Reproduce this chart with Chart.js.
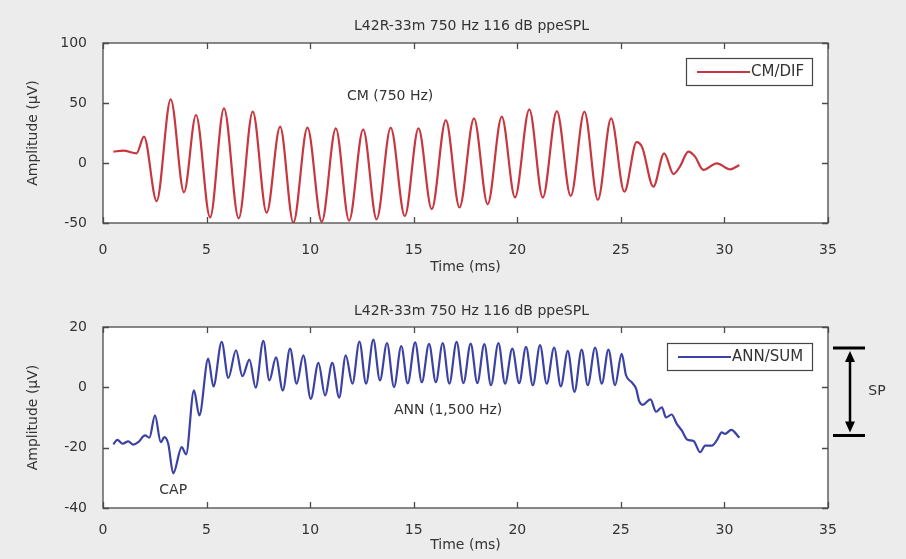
<!DOCTYPE html>
<html>
<head>
<meta charset="utf-8">
<script src="https://cdn.jsdelivr.net/npm/chart.js@4.4.1/dist/chart.umd.min.js"></script>
<style>
  html, body { margin: 0; padding: 0; background: #ececec; }
  body { width: 906px; height: 559px; position: relative; overflow: hidden; }
  .panel { position: absolute; left: 0; width: 906px; }
  #topPanel { top: 0; height: 280px; }
  #botPanel { top: 280px; height: 279px; }
</style>
</head>
<body>
<div class="panel" id="topPanel"><canvas id="cmChart"></canvas></div>
<div class="panel" id="botPanel"><canvas id="annChart"></canvas></div>
<script>
/* CM / ANN waveforms — two stacked panels */
var TITLE = 'L42R-33m 750 Hz 116 dB ppeSPL';
var xTicks = [0, 5, 10, 15, 20, 25, 30, 35];
var cmTicks = [-50, 0, 50, 100];
var annTicks = [-40, -20, 0, 20];

// CM/DIF trace (ms, µV) — peaks & troughs
var cmTime = [0.5, 0.98, 1.62, 1.98, 2.59, 3.27, 3.91, 4.49, 5.17, 5.84, 6.55, 7.23, 7.90, 8.55, 9.19, 9.87,
  10.56, 11.24, 11.88, 12.56, 13.21, 13.89, 14.57, 15.23, 15.87, 16.55, 17.21, 17.91, 18.57, 19.25, 19.89,
  20.58, 21.23, 21.91, 22.58, 23.24, 23.89, 24.53, 25.17, 25.76, 26.03, 26.57, 27.09, 27.54, 27.85, 28.26,
  28.58, 28.98, 29.63, 30.28, 30.72];
var cmAmp = [9.4, 10.3, 8.1, 21.9, -31.7, 53, -24.4, 40, -45.3, 45.6, -46.1, 42.8, -41.4, 30.3, -49.7, 29.4,
  -48.9, 28.9, -48, 28, -46.9, 29.4, -44.2, 28.9, -38.5, 35.8, -37, 37.2, -34.4, 38.6, -28.6,
  44.7, -28.8, 43.3, -27.5, 42.8, -30.8, 37.2, -23.9, 17.4, 13.0, -19.7, 8.1, -9.2, -3.0, 9.4,
  5.3, -5.8, -0.3, -5.3, -1.7];

// ANN/SUM trace (ms, µV)
var annTime = [0.50, 0.69, 0.95, 1.22, 1.46, 1.70, 2.03, 2.24, 2.51, 2.79, 2.96, 3.15, 3.39, 3.80, 4.01,
  4.39, 4.65, 5.08, 5.33, 5.73, 6.05, 6.42, 6.73, 7.07, 7.37, 7.74, 8.03, 8.35, 8.68, 9.03, 9.35, 9.67,
  10.03, 10.40, 10.72, 11.07, 11.40, 11.72, 12.04, 12.38, 12.70, 13.05, 13.37, 13.71, 14.05, 14.40, 14.71,
  15.07, 15.39, 15.74, 16.07, 16.40, 16.72, 17.07, 17.40, 17.75, 18.07, 18.41, 18.73, 19.09, 19.41, 19.76,
  20.09, 20.42, 20.75, 21.10, 21.42, 21.78, 22.10, 22.44, 22.76, 23.11, 23.40, 23.76, 24.08, 24.40, 24.72,
  25.04, 25.25, 25.55, 25.74, 25.88, 26.06, 26.43, 26.70, 26.98, 27.18, 27.45, 27.70, 27.94, 28.22, 28.51,
  28.83, 29.07, 29.39, 29.63, 29.87, 30.03, 30.33, 30.72];
var annAmp = [-18.9, -17.4, -18.7, -17.9, -19.0, -18.2, -15.9, -16.7, -9.3, -18.2, -16.5, -18.7, -28.5, -19.8, -22.2,
  -1.0, -9.3, 9.5, 0.3, 15.1, 3.1, 12.3, 3.7, 9.2, -0.1, 15.4, 2.3, 9.9, -1.0, 12.8, 1.2, 10.6,
  -3.8, 8.1, -2.7, 8.1, -3.4, 10.6, 1.2, 15.2, 1.2, 15.8, 2.3, 14.7, 0.1, 13.7, 1.3,
  14.9, 1.7, 14.4, 1.7, 14.7, 1.2, 15.1, 1.4, 14.5, 1.4, 14.3, 0.7, 14.7, 1.2, 12.8,
  1.4, 13.4, 0.7, 14.0, 1.2, 13.2, 0.3, 12.1, -1.5, 12.5, 0.7, 13.2, 1.2, 12.5, 0.7,
  11.1, 4.0, 1.5, -0.5, -4.5, -5.8, -4.0, -8.1, -6.6, -10.0, -9.0, -12.1, -14.3, -17.4, -17.8,
  -21.5, -19.3, -19.3, -17.6, -14.9, -15.4, -14.1, -16.7];

// SP bracket (µV)
var spRange = [13, -16];

var INK = '#333333';
var FONT = 'DejaVu Sans';
Chart.defaults.font.family = FONT;
Chart.defaults.font.size = 14;
Chart.defaults.color = INK;

function toPoints(xs, ys) {
  return xs.map(function (t, i) { return { x: t, y: ys[i] }; });
}

// frame, inward ticks, title, legend box, notes, SP bracket
var panelDeco = {
  id: 'panelDeco',
  beforeDraw: function (chart) {
    var a = chart.chartArea, ctx = chart.ctx;
    ctx.save();
    ctx.fillStyle = '#ffffff';
    ctx.fillRect(a.left, a.top, a.width, a.height);
    ctx.restore();
  },
  afterDraw: function (chart, args, o) {
    var a = chart.chartArea, ctx = chart.ctx;
    var xs = chart.scales.x, ys = chart.scales.y;
    ctx.save();
    ctx.strokeStyle = '#4a4a4a';
    ctx.lineWidth = 1.3;
    ctx.strokeRect(a.left, a.top, a.width, a.height);
    ctx.beginPath();
    xs.ticks.forEach(function (t) {
      var px = Math.round(xs.getPixelForValue(t.value)) + 0.5;
      ctx.moveTo(px, a.top); ctx.lineTo(px, a.top + 6);
      ctx.moveTo(px, a.bottom); ctx.lineTo(px, a.bottom - 6);
    });
    ys.ticks.forEach(function (t) {
      var py = Math.round(ys.getPixelForValue(t.value)) + 0.5;
      ctx.moveTo(a.left, py); ctx.lineTo(a.left + 6, py);
      ctx.moveTo(a.right, py); ctx.lineTo(a.right - 6, py);
    });
    ctx.stroke();

    // title
    ctx.fillStyle = INK;
    ctx.font = '14px ' + FONT;
    ctx.textAlign = 'center';
    ctx.textBaseline = 'middle';
    ctx.fillText(TITLE, (a.left + a.right) / 2 + 6, a.top - o.titleGap);

    // notes
    (o.notes || []).forEach(function (n) {
      ctx.fillText(n.text, xs.getPixelForValue(n.x), ys.getPixelForValue(n.y));
    });

    // legend
    var lg = o.legend;
    var bx = a.right - 16 - lg.w, by = a.top + lg.dy;
    ctx.fillStyle = '#ffffff';
    ctx.fillRect(bx, by, lg.w, 27);
    ctx.strokeStyle = '#444';
    ctx.lineWidth = 1.2;
    ctx.strokeRect(bx + 0.5, by + 0.5, lg.w, 27);
    ctx.strokeStyle = lg.color;
    ctx.lineWidth = 2;
    ctx.beginPath();
    ctx.moveTo(bx + 11, by + 14); ctx.lineTo(bx + 64, by + 14);
    ctx.stroke();
    ctx.fillStyle = INK;
    ctx.font = '15px ' + FONT;
    ctx.textAlign = 'left';
    ctx.fillText(lg.text, bx + 65, by + 14.5);

    // SP bracket
    if (o.sp) {
      var y1 = ys.getPixelForValue(o.sp[0]), y2 = ys.getPixelForValue(o.sp[1]);
      var ax = a.right + 22;
      ctx.strokeStyle = '#000';
      ctx.fillStyle = '#000';
      ctx.lineWidth = 3;
      ctx.beginPath();
      ctx.moveTo(a.right + 5, y1); ctx.lineTo(a.right + 37, y1);
      ctx.moveTo(a.right + 5, y2); ctx.lineTo(a.right + 37, y2);
      ctx.stroke();
      ctx.lineWidth = 2.5;
      ctx.beginPath();
      ctx.moveTo(ax, y1 + 10); ctx.lineTo(ax, y2 - 10);
      ctx.stroke();
      ctx.beginPath();
      ctx.moveTo(ax, y1 + 3); ctx.lineTo(ax - 5, y1 + 14); ctx.lineTo(ax + 5, y1 + 14); ctx.closePath();
      ctx.moveTo(ax, y2 - 3); ctx.lineTo(ax - 5, y2 - 14); ctx.lineTo(ax + 5, y2 - 14); ctx.closePath();
      ctx.fill();
      ctx.fillStyle = INK;
      ctx.font = '14px ' + FONT;
      ctx.textAlign = 'center';
      ctx.fillText('SP', a.right + 49, (y1 + y2) / 2);
    }
    ctx.restore();
  }
};

function makePanel(canvasId, pts, color, yMin, yMax, yTicks, lay, deco) {
  return new Chart(document.getElementById(canvasId), {
    type: 'line',
    data: {
      datasets: [{
        data: pts, borderColor: color, borderWidth: 2.2, pointRadius: 0,
        cubicInterpolationMode: 'monotone', fill: false
      }]
    },
    options: {
      responsive: true, maintainAspectRatio: false, animation: false,
      devicePixelRatio: 1,
      layout: { padding: { top: lay.top, right: 78, left: 0, bottom: 0 } },
      plugins: { legend: { display: false }, tooltip: { enabled: false }, panelDeco: deco },
      scales: {
        x: {
          type: 'linear', min: 0, max: 35,
          afterBuildTicks: function (s) { s.ticks = xTicks.map(function (v) { return { value: v }; }); },
          afterFit: function (s) { s.height = lay.xh; },
          grid: { display: false }, border: { display: false },
          ticks: { padding: lay.xpad, maxRotation: 0, color: INK },
          title: { display: true, text: 'Time (ms)', color: INK, padding: { top: 0, bottom: lay.tpad } }
        },
        y: {
          type: 'linear', min: yMin, max: yMax,
          afterBuildTicks: function (s) { s.ticks = yTicks.map(function (v) { return { value: v }; }); },
          afterFit: function (s) { s.width = 103; },
          grid: { display: false }, border: { display: false },
          ticks: { padding: 8, color: INK },
          title: { display: true, text: 'Amplitude (µV)', color: INK, padding: { top: 25, bottom: 0 } }
        }
      }
    },
    plugins: [panelDeco]
  });
}

makePanel('cmChart', toPoints(cmTime, cmAmp), '#c8363f', -50, 100, cmTicks,
  { top: 43, xh: 57, xpad: 11, tpad: 4 },
  { titleGap: 17, legend: { text: 'CM/DIF', color: '#c8363f', w: 126, dy: 15 },
    notes: [{ text: 'CM (750 Hz)', x: 13.86, y: 55.8 }] });

makePanel('annChart', toPoints(annTime, annAmp), '#3b42a3', -40, 20, annTicks,
  { top: 47, xh: 51, xpad: 6, tpad: 5 },
  { titleGap: 16, legend: { text: 'ANN/SUM', color: '#3b42a3', w: 145, dy: 16 },
    notes: [{ text: 'ANN (1,500 Hz)', x: 16.66, y: -7.6 }, { text: 'CAP', x: 3.39, y: -34 }],
    sp: spRange });
</script>
</body>
</html>
